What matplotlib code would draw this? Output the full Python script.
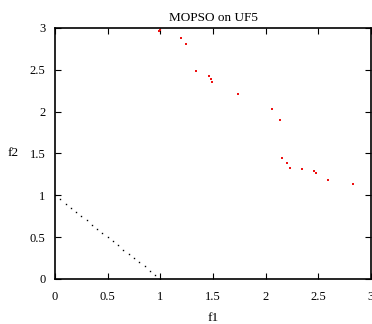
import matplotlib
matplotlib.use("Agg")
import matplotlib.pyplot as plt

plt.rcParams['font.family'] = ['Liberation Serif', 'DejaVu Serif']

# obtained front (MOPSO)
mopso_f1 = [0.99, 1.0, 1.197, 1.242, 1.34, 1.463, 1.479, 1.491, 1.735, 2.057,
            2.136, 2.158, 2.199, 2.227, 2.344, 2.464, 2.477, 2.594, 2.834]
mopso_f2 = [2.965, 2.975, 2.88, 2.81, 2.48, 2.42, 2.39, 2.35, 2.21, 2.03,
            1.90, 1.44, 1.38, 1.33, 1.31, 1.29, 1.27, 1.18, 1.14]

# true pareto front of UF5 (21 points)
true_f1 = [0.0, 0.05, 0.1, 0.15, 0.2, 0.25, 0.3, 0.35, 0.4, 0.45, 0.5,
           0.55, 0.6, 0.65, 0.7, 0.75, 0.8, 0.85, 0.9, 0.95, 1.0]
true_f2 = [1.0, 0.95, 0.9, 0.85, 0.8, 0.75, 0.7, 0.65, 0.6, 0.55, 0.5,
           0.45, 0.4, 0.35, 0.3, 0.25, 0.2, 0.15, 0.1, 0.05, 0.0]

xticks = [0, 0.5, 1, 1.5, 2, 2.5, 3]
yticks = [0, 0.5, 1, 1.5, 2, 2.5, 3]

fig = plt.figure(figsize=(3.72, 3.24), dpi=100)
ax = fig.add_axes([0.148, 0.139, 0.849, 0.775])

ax.plot(true_f1, true_f2, ls='none', marker='s', ms=1.0, mew=0, color='black')
ax.plot(mopso_f1, mopso_f2, ls='none', marker='s', ms=2.0, mew=0, color='#ee1111')

ax.set_xlim(0, 3)
ax.set_ylim(0, 3)
ax.set_xticks(xticks)
ax.set_yticks(yticks)
ax.set_xticklabels(['0', '0.5', '1', '1.5', '2', '2.5', '3'])
ax.set_yticklabels(['0', '0.5', '1', '1.5', '2', '2.5', '3'])
ax.tick_params(direction='in', length=4, width=0.8, labelsize=9,
               top=True, right=True)
ax.tick_params(axis='x', pad=9)
ax.tick_params(axis='y', pad=7)
for s in ax.spines.values():
    s.set_linewidth(1.2)

ax.set_title("MOPSO on UF5", fontsize=9.5, pad=5)
ax.set_xlabel("f1", fontsize=9.5, labelpad=6)
ax.set_ylabel("f2", fontsize=9.5, rotation=0, labelpad=12, va='center')

fig.savefig("out.png", dpi=100)
